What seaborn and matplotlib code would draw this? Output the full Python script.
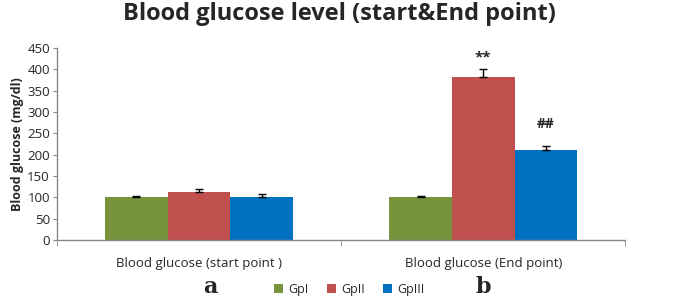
import numpy as np
import pandas as pd
import seaborn as sns
import matplotlib.pyplot as plt

# Data
conditions = ['Blood glucose (start point )', 'Blood glucose (End point)']
groups = ['GpI', 'GpII', 'GpIII']
start_vals = [100, 113, 101]
end_vals = [100, 382, 210]
start_err = [4, 7, 6]
end_err = [4, 18, 11]
colors = ['#77933C', '#C0504D', '#0070C0']

df = pd.DataFrame({
    'condition': [conditions[0]] * 3 + [conditions[1]] * 3,
    'group': groups * 2,
    'value': start_vals + end_vals,
})

sns.set_style('white')
plt.rcParams['font.family'] = ['Open Sans', 'DejaVu Sans']

fig = plt.figure(figsize=(6.85, 3.0), dpi=100)
ax = fig.add_axes([0.083, 0.2, 0.83, 0.64])

sns.barplot(data=df, x='condition', y='value', hue='group', palette=colors,
            width=0.66, gap=0, ax=ax, errorbar=None, saturation=1, linewidth=0)

bar_conts = list(ax.containers)

# error bars (upper only), per group container
for i, cont in enumerate(bar_conts):
    xs = [p.get_x() + p.get_width() / 2 for p in cont.patches]
    hs = [p.get_height() for p in cont.patches]
    errs = [start_err[i], end_err[i]]
    ax.errorbar(xs, hs, yerr=[np.zeros(2), errs], fmt='none', ecolor='black',
                elinewidth=1, capsize=3, capthick=1)

# significance marks
end_bars = [c.patches[1] for c in bar_conts]
ax.text(end_bars[1].get_x() + end_bars[1].get_width() / 2, 428, '**',
        ha='center', va='center', fontsize=11, fontweight='bold')
ax.text(end_bars[2].get_x() + end_bars[2].get_width() / 2, 272, '##',
        ha='center', va='center', fontsize=10, fontweight='bold')

ax.set_ylim(0, 450)
ax.set_yticks(range(0, 451, 50))
ax.set_xlim(-0.5, 1.5)
ax.set_xlabel('')
ax.set_ylabel('Blood glucose (mg/dl)', fontsize=9, fontweight='bold', labelpad=2)
ax.tick_params(axis='y', labelsize=9.5, length=3, left=True, color='#888888', pad=2)
ax.tick_params(axis='x', labelsize=9.5, length=0, pad=12)
ax.set_xticks([-0.5, 0.5, 1.5], minor=True)
ax.tick_params(axis='x', which='minor', bottom=True, length=4, color='#888888')
for s in ['top', 'right']:
    ax.spines[s].set_visible(False)
for s in ['left', 'bottom']:
    ax.spines[s].set_color('#888888')
    ax.spines[s].set_linewidth(1)

handles, labels = ax.get_legend_handles_labels()
ax.get_legend().remove()
fig.legend(handles, labels, loc='center', bbox_to_anchor=(0.51, 0.035), ncol=3,
           frameon=False, fontsize=9, handlelength=0.7, handleheight=0.7,
           handletextpad=0.4, columnspacing=1.5)

fig.suptitle('Blood glucose level (start&End point)', x=0.495, y=0.995,
             fontsize=17, fontweight='bold')
fig.text(0.307, 0.022, 'a', fontsize=16, fontweight='bold', family='DejaVu Serif', ha='center')
fig.text(0.705, 0.022, 'b', fontsize=16, fontweight='bold', family='DejaVu Serif', ha='center')

fig.savefig('out.png', dpi=100)
